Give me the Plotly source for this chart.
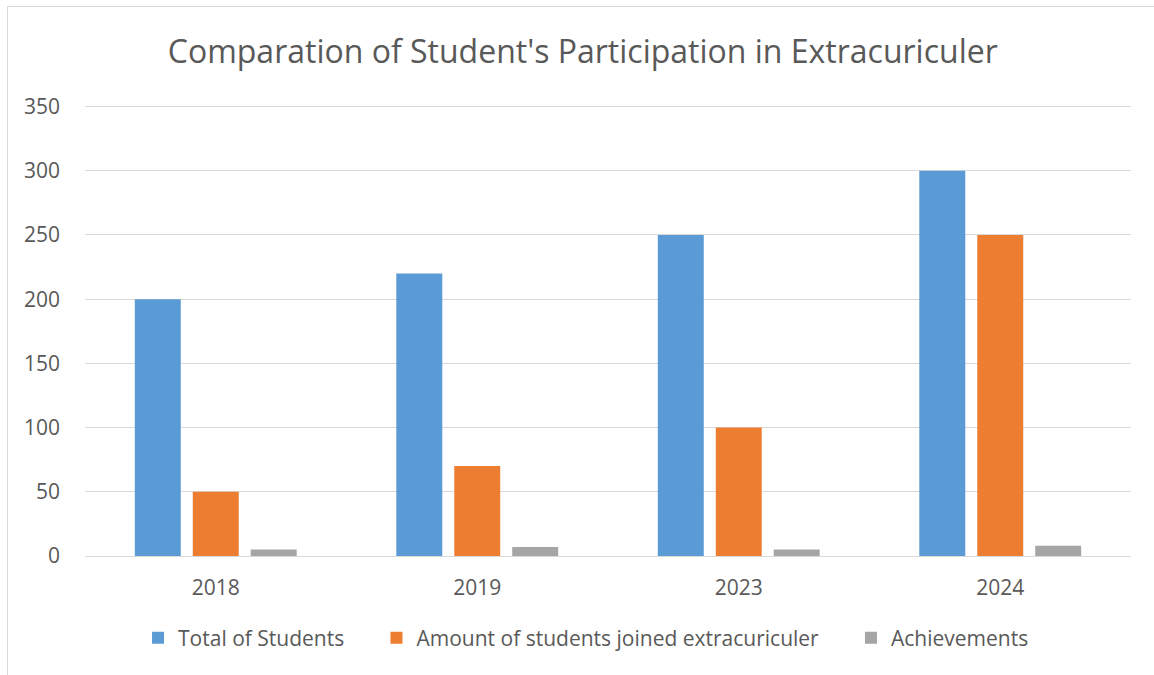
import plotly.graph_objects as go

years = ["2018", "2019", "2023", "2024"]
total_students = [200, 220, 250, 300]
joined_extra = [50, 70, 100, 250]
achievements = [5, 7, 5, 8]
series_names = ["Total of Students", "Amount of students joined extracuriculer", "Achievements"]
colors = ["#5B9BD5", "#ED7D31", "#A5A5A5"]
y_ticks = [0, 50, 100, 150, 200, 250, 300, 350]

W, H = 1154, 675
ml, mr, mt, mb = 85, 23, 105, 119
pw, ph = W - ml - mr, H - mt - mb

pad = "\u00a0" * 5
fig = go.Figure()
for i, (name, vals, c) in enumerate(zip(series_names, [total_students, joined_extra, achievements], colors)):
    label = name + (pad if i < len(series_names) - 1 else "")
    fig.add_trace(go.Bar(x=years, y=vals, name=label, marker=dict(color=c, line=dict(width=0)),
                         hovertemplate=name + ": %{y}<extra></extra>"))

font = "Open Sans, Calibri, sans-serif"
txt = "#595959"

def px_x(px):
    return (px - ml) / pw

def px_y(py):
    return (H - mb - py) / ph

fig.update_layout(
    width=W, height=H,
    margin=dict(l=ml, r=mr, t=mt, b=mb),
    paper_bgcolor="white", plot_bgcolor="white",
    barmode="group", bargap=0.335, bargroupgap=0.207,
    title=dict(text="Comparation of Student's Participation in Extracuriculer",
               x=0.505, xanchor="center", y=1 - 52 / H, yanchor="middle", yref="container",
               font=dict(family=font, size=32, color=txt)),
    font=dict(family=font, size=21, color=txt),
    legend=dict(orientation="h", x=0.479, xanchor="center", y=px_y(638), yanchor="middle",
                font=dict(family=font, size=21, color=txt), itemwidth=30, traceorder="normal"),
    xaxis=dict(showgrid=False, showline=False, ticks="", ticklabelstandoff=17,
               tickfont=dict(family=font, size=21, color=txt)),
    yaxis=dict(range=[0, 351.2], tickvals=y_ticks, showgrid=True, gridcolor="#D9D9D9", gridwidth=1,
               zeroline=True, zerolinecolor="#D9D9D9", zerolinewidth=1, showline=False, ticks="",
               ticklabelstandoff=24, tickfont=dict(family=font, size=21, color=txt)),
    shapes=[
        dict(type="line", xref="paper", yref="paper", x0=px_x(7.5), x1=px_x(7.5), y0=px_y(6.5), y1=px_y(676),
             line=dict(color="#D9D9D9", width=1)),
        dict(type="line", xref="paper", yref="paper", x0=px_x(7.5), x1=px_x(1154), y0=px_y(6.5), y1=px_y(6.5),
             line=dict(color="#D9D9D9", width=1)),
    ],
)

fig.write_html("out.html")
